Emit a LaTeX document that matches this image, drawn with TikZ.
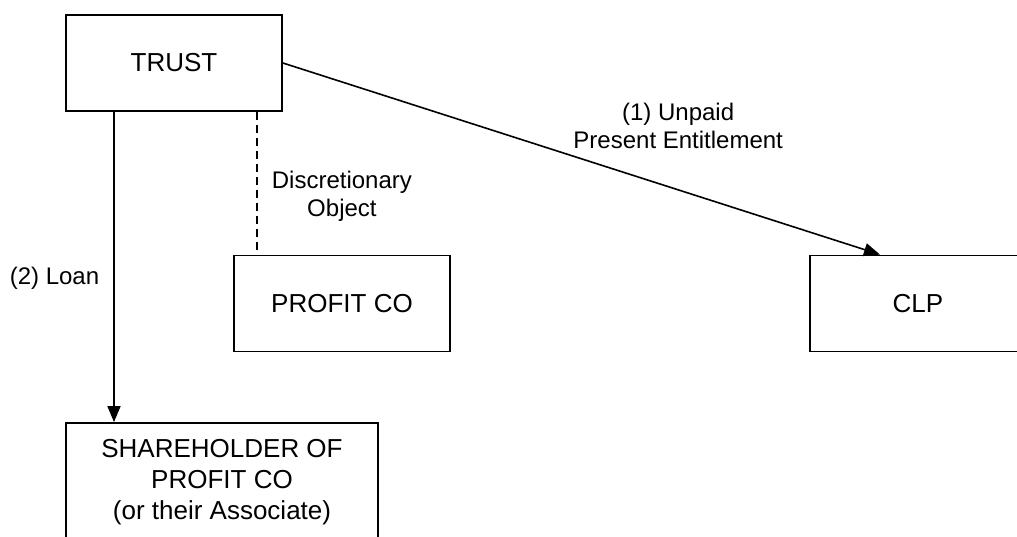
\documentclass[tikz,border=0pt]{standalone}
\usepackage{fontspec}
\setmainfont{Liberation Sans}
\usetikzlibrary{positioning}
\usetikzlibrary{arrows.meta}
\tikzset{>={Triangle[length=16pt,width=13pt]}}
\tikzset{ent/.style={draw, rectangle, line width=1.8pt, minimum width=216pt, minimum height=96pt, inner sep=0pt, align=center, font=\fontsize{26pt}{31pt}\selectfont}}
\tikzset{lbl/.style={align=center, inner sep=2pt, font=\fontsize{24pt}{28pt}\selectfont}}
\tikzset{link/.style={line width=1.6pt}}

\begin{document}
\begin{tikzpicture}[on grid]
        \useasboundingbox (0,0) rectangle (1017pt,-537pt);
        \clip (0,0) rectangle (1017pt,-537pt);

        \node[ent] (trust) at (174pt,-63pt) {TRUST};
        \node[ent, below right=240.5pt and 168pt of trust] (profitco) {PROFIT CO};
        \node[ent, right=576pt of profitco] (clp) {CLP};
        \node[ent, below right=419pt and 48pt of trust, minimum width=312pt, minimum height=118pt] (holder) {SHAREHOLDER OF\\PROFIT CO\\(or their Associate)};

        \draw [link,->] (trust.east) -- ([xshift=-38pt]clp.north)
            node[lbl, pos=0.662, yshift=64pt] (upe) {(1) Unpaid\\Present Entitlement};

        \draw [link,dashed,dash pattern=on 8pt off 5pt] ([xshift=24pt]profitco.north west |- trust.south) -- ([xshift=24pt]profitco.north west)
            node[lbl, pos=0.59, right=12pt] (disc) {Discretionary\\Object};

        \draw [link,->] ([xshift=-60pt]trust.south) -- ([xshift=-60pt]trust.south |- holder.north)
            node[lbl, pos=0.535, left=12pt] (loan) {(2) Loan};
    \end{tikzpicture}
\end{document}
